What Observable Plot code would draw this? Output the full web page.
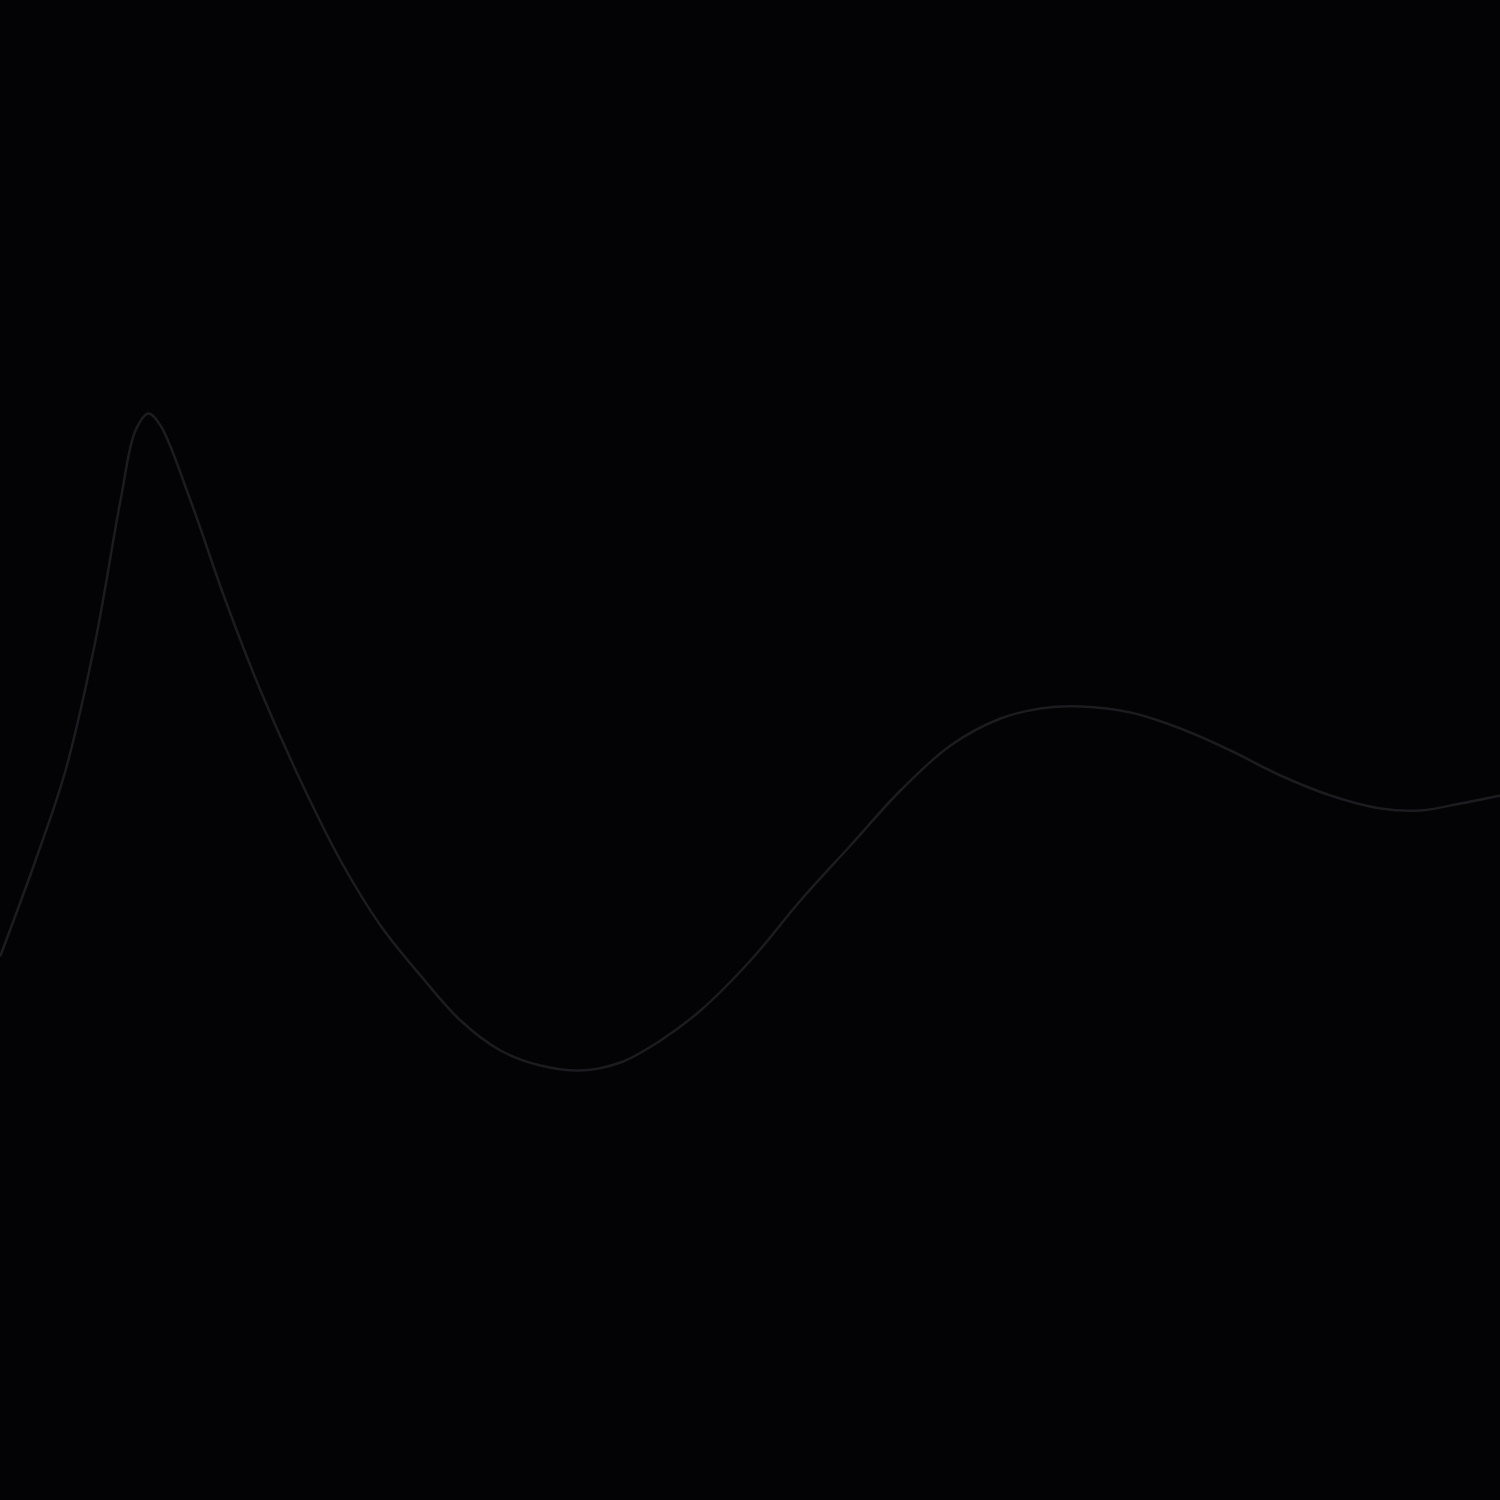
<!DOCTYPE html>
<html><head><meta charset="utf-8">
<script src="https://cdn.jsdelivr.net/npm/d3@7"></script>
<script src="https://cdn.jsdelivr.net/npm/@observablehq/plot@0.6"></script>
<style>html,body{margin:0;padding:0;background:#030205;overflow:hidden}</style>
</head><body><div id="chart"></div>
<script>
const xs = [0,35,65,95,120,135,148,160,190,225,260,300,340,380,420,460,500,540,580,620,660,700,750,800,850,900,950,1000,1040,1080,1130,1180,1230,1280,1330,1380,1420,1460,1500];
const ys = [955,860,770,640,500,430,413,425,500,600,690,780,860,925,975,1020,1050,1065,1070,1062,1040,1010,960,900,845,790,745,718,708,706,712,728,750,775,795,808,810,803,795];
const data = xs.map((x,i)=>({x, y: ys[i]}));
const chart = Plot.plot({
  width:1500, height:1500, margin:0,
  style:{background:"#030205"},
  x:{domain:[0,1500], axis:null},
  y:{domain:[1500,0], axis:null},
  marks:[
    Plot.line(data,{x:"x", y:"y", curve:"catmull-rom", stroke:"#1c1b1f", strokeWidth:2.5})
  ]
});
document.getElementById("chart").append(chart);
</script></body></html>
